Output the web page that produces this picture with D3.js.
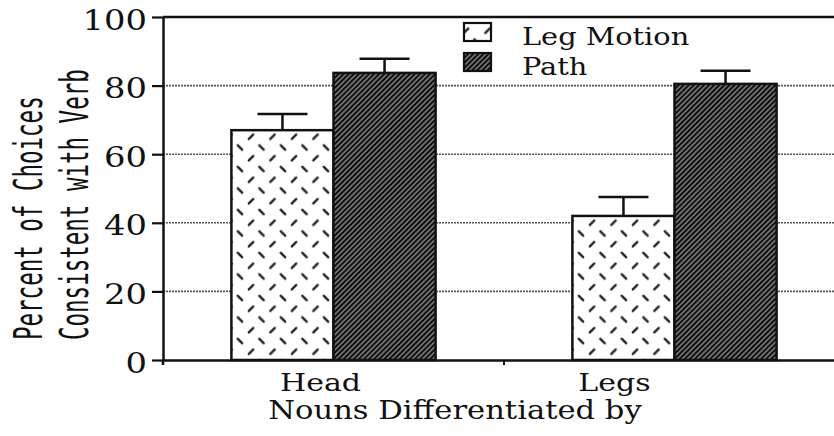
<!DOCTYPE html>
<html>
<head>
<meta charset="utf-8">
<script src="https://cdn.jsdelivr.net/npm/d3@7"></script>
<style>
  html, body { margin: 0; padding: 0; background: #fff; }
  svg { display: block; }
</style>
</head>
<body>
<div id="chart"></div>
<script>
// data
const categories = ["Head", "Legs"];
const seriesNames = ["Leg Motion", "Path"];
const legMotion = [67, 42];
const legMotionErr = [4.7, 5.5];
const pathVals = [83.7, 80.5];
const pathErr = [4.1, 3.8];
const yTicks = [0, 20, 40, 60, 80, 100];

var width = 834, height = 436;
var plotL = 163, plotR = 845, plotT = 17, plotB = 360;
var sx = 1.2; // the scan is stretched sideways, so the text is too

var svg = d3.select("#chart").append("svg")
    .attr("width", width)
    .attr("height", height);

var defs = svg.append("defs");

// white ground with short dashes, rows alternate \ and /
var dash = defs.append("pattern")
    .attr("id", "legPat")
    .attr("patternUnits", "userSpaceOnUse")
    .attr("x", 18.5).attr("y", 13.5)
    .attr("width", 21.5).attr("height", 21.5);
dash.append("rect").attr("width", 21.5).attr("height", 21.5).attr("fill", "#fff");
dash.append("line").attr("x1", 13.3).attr("y1", 2.8).attr("x2", 17.7).attr("y2", 7.2)
    .attr("stroke", "#222").attr("stroke-width", 2.4).attr("stroke-linecap", "round");
dash.append("line").attr("x1", 2.8).attr("y1", 18).attr("x2", 7.2).attr("y2", 13.6)
    .attr("stroke", "#222").attr("stroke-width", 2.4).attr("stroke-linecap", "round");

// black ground with thin white / stripes
var hatch = defs.append("pattern")
    .attr("id", "pathPat")
    .attr("patternUnits", "userSpaceOnUse")
    .attr("width", 3.6).attr("height", 10)
    .attr("patternTransform", "rotate(45)");
hatch.append("rect").attr("width", 3.6).attr("height", 10).attr("fill", "#0d0d0d");
hatch.append("line").attr("x1", 1.8).attr("y1", 0).attr("x2", 1.8).attr("y2", 10)
    .attr("stroke", "#ddd").attr("stroke-width", 0.9);

var fills = ["url(#legPat)", "url(#pathPat)"];

var x0 = d3.scaleBand().domain(categories).range([plotL, plotR]).padding(0);
var x1 = d3.scaleBand().domain(seriesNames).range([0, x0.bandwidth()])
    .paddingInner(0).paddingOuter(0.67);
var y = d3.scaleLinear().domain([0, 100]).range([plotB, plotT]);

var rows = categories.map(function(c, i) {
    return [
        { cat: c, s: seriesNames[0], v: legMotion[i], e: legMotionErr[i] },
        { cat: c, s: seriesNames[1], v: pathVals[i], e: pathErr[i] }
    ];
});

// grid lines (grey, slightly ragged)
svg.append("g").selectAll("line")
    .data(yTicks.filter(function(t) { return t > 0 && t < 100; }))
    .enter().append("line")
    .attr("x1", plotL).attr("x2", plotR)
    .attr("y1", function(d) { return y(d); })
    .attr("y2", function(d) { return y(d); })
    .attr("stroke", "#555")
    .attr("stroke-width", 1.6)
    .attr("stroke-dasharray", "2,1");

// top border
svg.append("line")
    .attr("x1", plotL).attr("x2", plotR)
    .attr("y1", y(100)).attr("y2", y(100))
    .attr("stroke", "#111").attr("stroke-width", 2.5);

// error bars
var eb = svg.append("g").selectAll("g")
    .data(d3.merge(rows))
    .enter().append("g")
    .attr("transform", function(d) { return "translate(" + (x0(d.cat) + x1(d.s) + x1.bandwidth() / 2) + ",0)"; });
eb.append("line")
    .attr("x1", 0).attr("x2", 0)
    .attr("y1", function(d) { return y(d.v); })
    .attr("y2", function(d) { return y(d.v + d.e); })
    .attr("stroke", "#111").attr("stroke-width", 2.5);
eb.append("line")
    .attr("x1", -25).attr("x2", 25)
    .attr("y1", function(d) { return y(d.v + d.e); })
    .attr("y2", function(d) { return y(d.v + d.e); })
    .attr("stroke", "#111").attr("stroke-width", 2.5);

// bars
svg.append("g").selectAll("g")
    .data(rows)
    .enter().append("g")
    .attr("transform", function(d, i) { return "translate(" + x0(categories[i]) + ",0)"; })
    .selectAll("rect")
    .data(function(d) { return d; })
    .enter().append("rect")
    .attr("x", function(d) { return x1(d.s); })
    .attr("y", function(d) { return y(d.v); })
    .attr("width", x1.bandwidth())
    .attr("height", function(d) { return y(0) - y(d.v); })
    .attr("fill", function(d, i) { return fills[i]; })
    .attr("stroke", "#111")
    .attr("stroke-width", 2.5);

// y axis
var yAxis = svg.append("g")
    .attr("transform", "translate(" + plotL + ",0)")
    .call(d3.axisLeft(y).tickValues(yTicks).tickSize(11).tickSizeOuter(0).tickPadding(0));
yAxis.select(".domain").attr("stroke", "#111").attr("stroke-width", 2.5);
yAxis.selectAll(".tick line").attr("stroke", "#111").attr("stroke-width", 2.2);
yAxis.selectAll(".tick text")
    .attr("x", -16 / 1.25)
    .attr("dy", "0.45em")
    .attr("transform", "scale(1.25,1)")
    .style("font-family", "'DejaVu Serif', serif")
    .style("font-size", "27px")
    .attr("fill", "#111");
// axis line runs a little below the baseline
svg.append("line")
    .attr("x1", plotL).attr("x2", plotL)
    .attr("y1", y(0)).attr("y2", y(0) + 5)
    .attr("stroke", "#111").attr("stroke-width", 2.5);

// x axis
var xAxis = svg.append("g")
    .attr("transform", "translate(0," + plotB + ")")
    .call(d3.axisBottom(x0).tickSize(0).tickFormat(""));
xAxis.select(".domain").attr("stroke", "#111").attr("stroke-width", 2.5);
svg.append("line")
    .attr("x1", x0(categories[1])).attr("x2", x0(categories[1]))
    .attr("y1", plotB).attr("y2", plotB + 5)
    .attr("stroke", "#111").attr("stroke-width", 2);

// category labels (set left of centre in the original)
var labelShift = [-13, -60];
svg.append("g").selectAll("text")
    .data(categories)
    .enter().append("text")
    .attr("transform", function(d, i) {
        return "translate(" + (x0(d) + x0.bandwidth() / 2 + labelShift[i]) + ",391) scale(" + sx + ",1)";
    })
    .attr("text-anchor", "middle")
    .style("font-family", "'DejaVu Serif', serif")
    .style("font-size", "25px")
    .attr("fill", "#111")
    .text(function(d) { return d; });

svg.append("text")
    .attr("transform", "translate(455,419) scale(" + sx + ",1)")
    .attr("text-anchor", "middle")
    .style("font-family", "'DejaVu Serif', serif")
    .style("font-size", "25.5px")
    .attr("fill", "#111")
    .text("Nouns Differentiated by");

// y title, two lines
var yTitle = ["Percent of Choices", "Consistent with Verb"];
svg.append("g").selectAll("text")
    .data(yTitle)
    .enter().append("text")
    .attr("transform", function(d, i) { return "translate(" + (42 + i * 46) + ",340) scale(1.7,1) rotate(-90)"; })
    .attr("text-anchor", "start")
    .style("font-family", "'DejaVu Sans Mono', monospace")
    .style("font-size", "22.5px")
    .attr("fill", "#111")
    .text(function(d) { return d; });

// legend
var legend = svg.append("g").selectAll("g")
    .data(seriesNames)
    .enter().append("g")
    .attr("transform", function(d, i) { return "translate(464," + (23 + i * 30) + ")"; });
legend.append("rect")
    .attr("width", 27).attr("height", 18)
    .attr("fill", function(d, i) { return fills[i]; })
    .attr("stroke", "#111").attr("stroke-width", 2.2);
legend.append("text")
    .attr("transform", "translate(58,22) scale(" + sx + ",1)")
    .style("font-family", "'DejaVu Serif', serif")
    .style("font-size", "24px")
    .attr("fill", "#111")
    .text(function(d) { return d; });
</script>
</body>
</html>
